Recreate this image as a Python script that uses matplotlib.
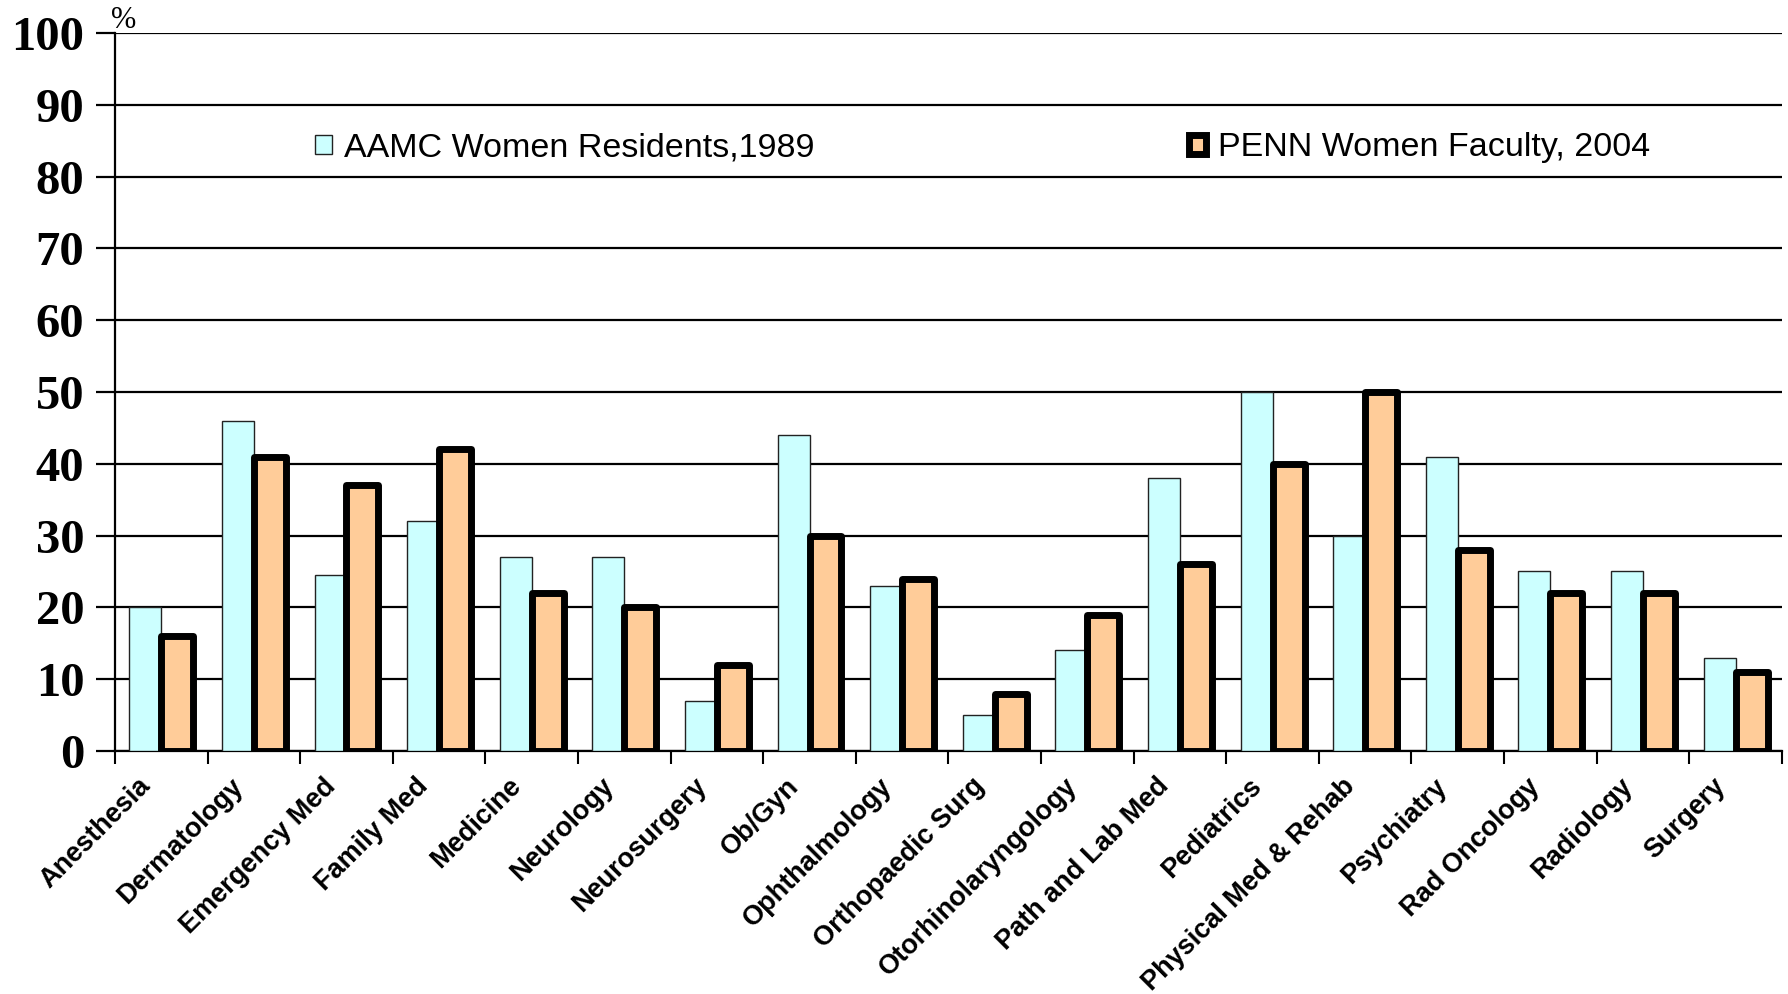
import matplotlib
matplotlib.use("Agg")
import matplotlib.pyplot as plt
import numpy as np

categories = ["Anesthesia", "Dermatology", "Emergency Med", "Family Med", "Medicine",
              "Neurology", "Neurosurgery", "Ob/Gyn", "Ophthalmology", "Orthopaedic Surg",
              "Otorhinolaryngology", "Path and Lab Med", "Pediatrics", "Physical Med & Rehab",
              "Psychiatry", "Rad Oncology", "Radiology", "Surgery"]
aamc_1989 = [20, 46, 24.5, 32, 27, 27, 7, 44, 23, 5, 14, 38, 50, 30, 41, 25, 25, 13]
penn_2004 = [16, 41, 37, 42, 22, 20, 12, 30, 24, 8, 19, 26, 40, 50, 28, 22, 22, 11]
series_names = ["AAMC Women Residents,1989", "PENN Women Faculty, 2004"]
yticks = list(range(0, 101, 10))

fig = plt.figure(figsize=(17.88, 9.94), dpi=100)
ax = fig.add_axes([0.0643, 0.2445, 0.9323, 0.7223])

x = np.arange(len(categories))
w = 0.345
b1 = ax.bar(x - w / 2, aamc_1989, width=w, color="#CCFFFF", edgecolor="#222222",
            linewidth=1.0, zorder=3, label=series_names[0])
b2 = ax.bar(x + w / 2, penn_2004, width=w, color="#FFCC99", edgecolor="black",
            linewidth=5.0, zorder=4, label=series_names[1], joinstyle="round")

ax.set_xlim(-0.5, len(categories) - 0.5)
ax.set_ylim(0, 100)
ax.set_yticks(yticks)
ax.set_yticklabels([str(v) for v in yticks], fontfamily="Liberation Serif",
                   fontweight="bold", fontsize=35)
for y in yticks:
    ax.axhline(y, color="black", linewidth=1.6, zorder=1)

ax.set_xticks(np.arange(len(categories) + 1) - 0.5, minor=False)
ax.set_xticklabels([])
ax.tick_params(axis="x", length=9, width=1.5, direction="out")
ax.tick_params(axis="y", length=14, width=1.6, direction="out", pad=8)

for i, c in enumerate(categories):
    ax.annotate(c, xy=(i, 0), xycoords=("data", "axes fraction"),
                xytext=(-17, -16), textcoords="offset points",
                rotation=45, ha="right", va="top", rotation_mode="anchor",
                fontfamily="Liberation Sans", fontweight="bold", fontsize=19.5)

for s in ["top", "right"]:
    ax.spines[s].set_visible(False)
ax.spines["left"].set_linewidth(1.6)
ax.spines["bottom"].set_linewidth(1.6)

ax.text(-0.54, 100.7, "%", fontfamily="Liberation Serif", fontsize=22,
        ha="left", va="baseline")

leg_kw = dict(loc="center left", frameon=False, borderpad=0,
              handlelength=0.5, handleheight=0.5, handletextpad=0.35,
              prop={"family": "Liberation Sans", "size": 24.5})
l1 = ax.legend(handles=[b1], labels=[series_names[0]], bbox_to_anchor=(0.110, 0.84), **leg_kw)
ax.add_artist(l1)
l2 = ax.legend(handles=[b2], labels=[series_names[1]], bbox_to_anchor=(0.634, 0.84), **leg_kw)

fig.savefig("out.png", dpi=100, facecolor="white")
